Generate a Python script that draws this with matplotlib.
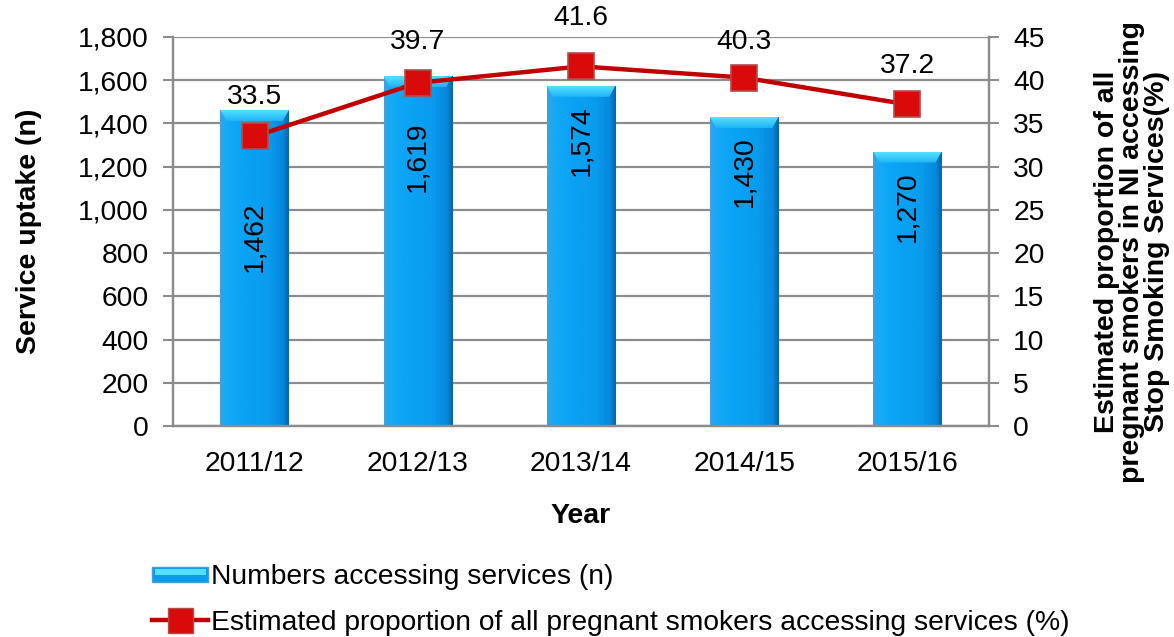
import matplotlib
matplotlib.use("Agg")
import matplotlib.pyplot as plt
import numpy as np
from matplotlib.ticker import FuncFormatter, MultipleLocator
from matplotlib.lines import Line2D
from matplotlib.patches import Rectangle
from matplotlib.legend_handler import HandlerBase
from matplotlib.colors import LinearSegmentedColormap

plt.rcParams['font.family'] = ['Liberation Sans', 'DejaVu Sans']

years = ["2011/12", "2012/13", "2013/14", "2014/15", "2015/16"]
uptake = [1462, 1619, 1574, 1430, 1270]
proportion = [33.5, 39.7, 41.6, 40.3, 37.2]

bar_label_drop_px = [127, 81, 55, 55, 55]   # label centre below bar top
line_label_rise_px = [39, 41, 48, 36, 38]    # label centre above marker

W, H, DPI = 1174, 637, 100
fig = plt.figure(figsize=(W / DPI, H / DPI), dpi=DPI)
ax = fig.add_axes([173 / W, 1 - 426 / H, (989 - 173) / W, (426 - 37) / H])
ax2 = ax.twinx()

FS = 20.3
FSB = 20.5
GRID = "#8c8c8c"

x = np.arange(len(years))
bar_w = 0.42

# bars with a cylindrical shading
body_cmap = LinearSegmentedColormap.from_list(
    "body", [(0.0, "#4a9ed6"), (0.05, "#1aaaf6"), (0.3, "#0aa4f6"), (0.7, "#0a9cee"),
             (0.92, "#0688dc"), (1.0, "#0a64a8")])
cap_cmap = LinearSegmentedColormap.from_list("cap", ["#20b4f6", "#55e0ff"])

bars = ax.bar(x, uptake, width=bar_w, color="#0a9eee", zorder=2, linewidth=0)
px_per_unit = (426 - 37) / 1800.0
cap_h = 11 / px_per_unit
for b in bars:
    x0, w, top = b.get_x(), b.get_width(), b.get_height()
    im = ax.imshow(np.linspace(0, 1, 80)[None, :], cmap=body_cmap, aspect="auto",
                   extent=[x0, x0 + w, 0, top], zorder=2.1, interpolation="bilinear")
    im.set_clip_path(b)
    # bevelled top
    inset = w * 0.09
    cap = plt.Polygon([[x0, top], [x0 + w, top], [x0 + w - inset, top - cap_h],
                       [x0 + inset, top - cap_h]], closed=True, facecolor="none",
                      edgecolor="none", transform=ax.transData)
    ax.add_patch(cap)
    cim = ax.imshow(np.linspace(0, 1, 30)[:, None], cmap=cap_cmap, aspect="auto",
                    extent=[x0, x0 + w, top - cap_h, top], origin="lower",
                    zorder=2.2, interpolation="bilinear")
    cim.set_clip_path(cap)

ax.set_xlim(-0.5, len(years) - 0.5)
ax.set_ylim(0, 1800)
ax2.set_ylim(0, 45)

for xi, v, drop in zip(x, uptake, bar_label_drop_px):
    ax.annotate(f"{v:,}", (xi, v), xytext=(0, -drop * 72 / DPI), textcoords="offset points",
                rotation=90, ha="center", va="center", fontsize=FS, color="black", zorder=5)

# proportion line
ax2.plot(x, proportion, color="#c00000", linewidth=3.2, marker="s", markersize=19,
         markerfacecolor="#d90a0a", markeredgecolor="#b84a4a", markeredgewidth=1.2,
         zorder=4, solid_capstyle="butt")
for xi, v, rise in zip(x, proportion, line_label_rise_px):
    ax2.annotate(f"{v:.1f}", (xi, v), xytext=(0, rise * 72 / DPI), textcoords="offset points",
                 ha="center", va="center", fontsize=FS, color="black", annotation_clip=False)

# axes styling
ax.yaxis.set_major_locator(MultipleLocator(200))
ax.yaxis.set_major_formatter(FuncFormatter(lambda v, p: f"{int(v):,}"))
ax2.yaxis.set_major_locator(MultipleLocator(5))
ax.set_xticks(x)
ax.set_xticklabels(years, fontsize=FS)
ax.tick_params(axis="x", length=0, pad=18)
ax.tick_params(axis="y", direction="out", length=7, width=1.5, color=GRID, labelsize=FS, pad=10.5)
ax2.tick_params(axis="y", direction="out", length=7, width=1.5, color=GRID, labelsize=FS, pad=10.5)

ax.grid(axis="y", color=GRID, linewidth=1.6, zorder=0)
ax.set_axisbelow(True)
for a in (ax, ax2):
    a.spines["top"].set_visible(False)
    for s in ("left", "right", "bottom"):
        a.spines[s].set_color(GRID)
        a.spines[s].set_linewidth(1.6)
ax2.set_zorder(ax.get_zorder() + 1)
ax2.patch.set_visible(False)

ax.set_ylabel("Service uptake (n)", fontsize=FSB, fontweight="bold")
ax.yaxis.set_label_coords((42 - 173) / (989 - 173), 0.5)
ax.set_xlabel("Year", fontsize=FSB, fontweight="bold")
ax.xaxis.set_label_coords(0.5, -(503 - 426) / (426 - 37))
fig.text(1132 / W, 1 - 252 / H,
         "Estimated proportion of all\npregnant smokers in NI accessing\nStop Smoking Services(%)",
         rotation=90, ha="center", va="center", fontsize=FSB, fontweight="bold",
         linespacing=0.93, multialignment="center")

# legend
class BarHandle(HandlerBase):
    def create_artists(self, legend, orig, xd, yd, width, height, fontsize, trans):
        r = Rectangle((xd, yd + height * 0.12), width, height * 0.72,
                      facecolor="#0a9cec", edgecolor="#4a9ed6", linewidth=1, transform=trans)
        r2 = Rectangle((xd + 2, yd + height * 0.45), width - 4, height * 0.3,
                       facecolor="#55e0ff", edgecolor="none", transform=trans)
        return [r, r2]

bar_proxy = Rectangle((0, 0), 1, 1)
line_proxy = Line2D([], [], color="#c00000", linewidth=3.2, marker="s", markersize=18,
                    markerfacecolor="#d90a0a", markeredgecolor="#b84a4a")
fig.legend([bar_proxy, line_proxy],
           ["Numbers accessing services (n)",
            "Estimated proportion of all pregnant smokers accessing services (%)"],
           handler_map={Rectangle: BarHandle()},
           loc="upper left", bbox_to_anchor=(152 / W, 1 - 564 / H), frameon=False,
           fontsize=FS, handlelength=2.0, handletextpad=0.1, labelspacing=0.7,
           borderpad=0, borderaxespad=0)

fig.savefig("out.png", dpi=DPI)
